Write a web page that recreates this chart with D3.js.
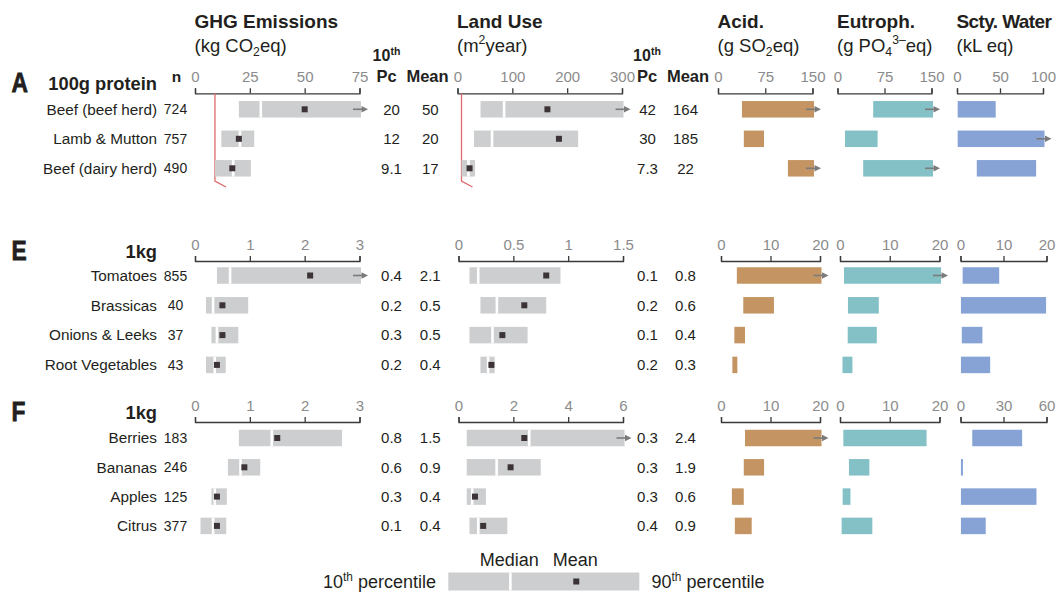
<!DOCTYPE html>
<html>
<head>
<meta charset="utf-8">
<script src="https://cdn.jsdelivr.net/npm/d3@7"></script>
<style>
  body { margin: 0; background: #fff; }
  svg { display: block; }
</style>
</head>
<body>
<svg id="chart" width="1059" height="592"></svg>
<script>
// ---------------- Data ----------------
// Section A: per 100 g protein
const productsA = ["Beef (beef herd)", "Lamb & Mutton", "Beef (dairy herd)"];
const countsA = [724, 757, 490];
const ghgP10A = [20, 12, 9.1];
const ghgMedianA = [30, 20.5, 17.4];
const ghgMeanA = [50, 20, 17];
const ghgP90A = [105, 27, 25.5];
const landP10A = [42, 30, 7.3];
const landMedianA = [85, 63, 20];
const landMeanA = [164, 185, 22];
const landP90A = [370, 220, 32];
const acidA = [[38, 200], [41, 73], [111, 170]];
const eutrophA = [[57, 190], [12, 64], [41, 175]];
const waterA = [[0.8, 45], [0.8, 108], [23, 92]];
const ghgTicksA = [0, 25, 50, 75];
const landTicksA = [0, 100, 200, 300];
const acidTicksA = [0, 75, 150];
const eutrophTicksA = [0, 75, 150];
const waterTicksA = [0, 50, 100];

// Section E: per 1 kg (vegetables)
const productsE = ["Tomatoes", "Brassicas", "Onions & Leeks", "Root Vegetables"];
const countsE = [855, 40, 37, 43];
const ghgP10E = [0.4, 0.2, 0.3, 0.2];
const ghgMedianE = [0.64, 0.33, 0.4, 0.36];
const ghgMeanE = [2.1, 0.5, 0.5, 0.4];
const ghgP90E = [3.4, 0.97, 0.79, 0.56];
const landP10E = [0.1, 0.2, 0.1, 0.2];
const landMedianE = [0.18, 0.35, 0.31, 0.27];
const landMeanE = [0.8, 0.6, 0.4, 0.3];
const landP90E = [0.93, 0.8, 0.63, 0.33];
const acidE = [[3.2, 24], [4.5, 10.7], [2.7, 4.85], [2.3, 3.3]];
const eutrophE = [[0.8, 23], [1.6, 7.8], [1.55, 7.4], [0.5, 2.5]];
const waterE = [[0.5, 9], [0.1, 19.9], [0.3, 5.1], [0.1, 6.9]];
const ghgTicksE = [0, 1, 2, 3];
const landTicksE = [0, 0.5, 1, 1.5];
const acidTicksE = [0, 10, 20];
const eutrophTicksE = [0, 10, 20];
const waterTicksE = [0, 10, 20];

// Section F: per 1 kg (fruit)
const productsF = ["Berries", "Bananas", "Apples", "Citrus"];
const countsF = [183, 246, 125, 377];
const ghgP10F = [0.8, 0.6, 0.3, 0.1];
const ghgMedianF = [1.4, 0.83, 0.36, 0.33];
const ghgMeanF = [1.5, 0.9, 0.4, 0.4];
const ghgP90F = [2.68, 1.19, 0.58, 0.57];
const landP10F = [0.3, 0.3, 0.3, 0.4];
const landMedianF = [2.58, 1.39, 0.5, 0.72];
const landMeanF = [2.4, 1.9, 0.6, 0.9];
const landP90F = [7.5, 3.0, 1.0, 1.78];
const acidF = [[4.85, 26], [4.6, 8.7], [2.2, 4.6], [2.8, 6.2]];
const eutrophF = [[0.67, 17.4], [1.8, 5.9], [0.53, 2.1], [0.33, 6.5]];
const waterF = [[8.2, 43], [0.3, 1.7], [0.3, 53], [0.3, 17.6]];
const ghgTicksF = [0, 1, 2, 3];
const landTicksF = [0, 2, 4, 6];
const acidTicksF = [0, 10, 20];
const eutrophTicksF = [0, 10, 20];
const waterTicksF = [0, 30, 60];

// Legend key: 10th percentile, median, mean, 90th percentile
const legendMarks = [0, 0.325, 0.67, 1];

// Column headings
const metricTitles = ["GHG Emissions", "Land Use", "Acid.", "Eutroph.", "Scty. Water"];
const metricUnits = [
  [{ t: "(kg CO" }, { t: "2", sub: true }, { t: "eq)" }],
  [{ t: "(m" }, { t: "2", sup: true }, { t: "year)" }],
  [{ t: "(g SO" }, { t: "2", sub: true }, { t: "eq)" }],
  [{ t: "(g PO" }, { t: "4", sub: true }, { t: "3–", sup: true }, { t: "eq)" }],
  [{ t: "(kL eq)" }]
];

// ---------------- Styling ----------------
const FONT = "'Liberation Sans', Arial, Helvetica, sans-serif";
const TEXT = "#231f20";
const AXIS = "#3a3a3a";
const TICK_TEXT = "#8b8b8b";
const RANGE_GREY = "#cdcecf";
const MEAN_MARK = "#3b3335";
const ARROW = "#7b7b7b";
const RED = "#e0686a";
const FILL = { acid: "#c49563", eutroph: "#84c1c7", water: "#87a3d6" };
const BAR_H = 16.5;
const ROW_FONT = 15.3;
const VALUE_FONT = 15;
const fmt = d3.format("~g");

// ---------------- Sections ----------------
function rows(products, p10, med, mean, p90) {
  return products.map((p, i) => ({ p10: p10[i], median: med[i], mean: mean[i], p90: p90[i] }));
}

const sections = [
  {
    letter: "A", basis: "100g protein", heads: true, marker: true,
    products: productsA, counts: countsA,
    ghg: rows(productsA, ghgP10A, ghgMedianA, ghgMeanA, ghgP90A),
    land: rows(productsA, landP10A, landMedianA, landMeanA, landP90A),
    acid: acidA, eutroph: eutrophA, water: waterA,
    ticks: { ghg: ghgTicksA, land: landTicksA, acid: acidTicksA, eutroph: eutrophTicksA, water: waterTicksA },
    axisY: 93.3, rowY0: 109.3, rowStep: 29.5,
    xr: { ghg: [195, 359.5], land: [457.5, 622], acid: [718, 812.5], eutroph: [837.5, 931.5], water: [957, 1043] }
  },
  {
    letter: "E", basis: "1kg", heads: false, marker: false,
    products: productsE, counts: countsE,
    ghg: rows(productsE, ghgP10E, ghgMedianE, ghgMeanE, ghgP90E),
    land: rows(productsE, landP10E, landMedianE, landMeanE, landP90E),
    acid: acidE, eutroph: eutrophE, water: waterE,
    ticks: { ghg: ghgTicksE, land: landTicksE, acid: acidTicksE, eutroph: eutrophTicksE, water: waterTicksE },
    axisY: 261, rowY0: 275.5, rowStep: 29.8,
    xr: { ghg: [195, 359.5], land: [458.5, 623], acid: [721, 820], eutroph: [840, 939.5], water: [960.5, 1046.5] }
  },
  {
    letter: "F", basis: "1kg", heads: false, marker: false,
    products: productsF, counts: countsF,
    ghg: rows(productsF, ghgP10F, ghgMedianF, ghgMeanF, ghgP90F),
    land: rows(productsF, landP10F, landMedianF, landMeanF, landP90F),
    acid: acidF, eutroph: eutrophF, water: waterF,
    ticks: { ghg: ghgTicksF, land: landTicksF, acid: acidTicksF, eutroph: eutrophTicksF, water: waterTicksF },
    axisY: 422, rowY0: 438, rowStep: 29.3,
    xr: { ghg: [195, 359.5], land: [458.5, 623], acid: [721, 820], eutroph: [840, 939.5], water: [960.5, 1046.5] }
  }
];

// x positions of the "10th Pc" and "Mean" value columns
const valueCols = {
  ghg: { pc: 391.5, mean: 430.3, pcHead: 386.5, meanHead: 427.5 },
  land: { pc: 647.5, mean: 685.5, pcHead: 647, meanHead: 688 }
};

const svg = d3.select("#chart").attr("font-family", FONT);

// text with sub/superscript parts
function richText(sel, parts, size) {
  let shift = 0;
  parts.forEach(p => {
    const target = p.sub ? size * 0.25 : p.sup ? -size * 0.4 : 0;
    sel.append("tspan")
      .attr("dy", target - shift)
      .attr("font-size", (p.sub || p.sup) ? size * 0.66 : size)
      .text(p.t);
    shift = target;
  });
}

function arrowAt(g, x, y) {
  g.append("line")
    .attr("x1", x - 6.5).attr("x2", x + 2.5)
    .attr("y1", y).attr("y2", y)
    .attr("stroke", ARROW).attr("stroke-width", 1.6);
  g.append("path")
    .attr("d", `M${x + 2},${y - 3.3} L${x + 8.5},${y} L${x + 2},${y + 3.3} Z`)
    .attr("fill", ARROW);
}

function drawAxis(g, scale, ticks, y) {
  const axis = d3.axisTop(scale)
    .tickValues(ticks)
    .tickSizeInner(5).tickSizeOuter(5)
    .tickPadding(6)
    .tickFormat(fmt);
  const a = g.append("g").attr("transform", `translate(0,${y})`).call(axis);
  a.attr("font-family", FONT).attr("font-size", 15);
  a.select(".domain").attr("stroke", AXIS).attr("stroke-width", 1.3);
  a.selectAll(".tick line").attr("stroke", AXIS).attr("stroke-width", 1.3);
  a.selectAll(".tick text").attr("fill", TICK_TEXT);
}

// Column headings
const headX = sections[0].xr;
metricTitles.forEach((title, i) => {
  const key = ["ghg", "land", "acid", "eutroph", "water"][i];
  svg.append("text")
    .attr("x", headX[key][0] - 0.5).attr("y", 27.5)
    .attr("font-weight", "bold").attr("font-size", 19)
    .attr("letter-spacing", key === "water" ? -0.6 : 0)
    .attr("fill", TEXT)
    .text(title);
  const u = svg.append("text")
    .attr("x", headX[key][0] - 0.5).attr("y", 51.5)
    .attr("font-size", 18.5).attr("fill", TEXT);
  richText(u, metricUnits[i], 18.5);
});

sections.forEach(sec => {
  const g = svg.append("g");
  const n = sec.products.length;
  const rowY = d3.range(n).map(i => sec.rowY0 + i * sec.rowStep);
  const sx = {};
  ["ghg", "land", "acid", "eutroph", "water"].forEach(k => {
    const t = sec.ticks[k];
    sx[k] = d3.scaleLinear().domain([t[0], t[t.length - 1]]).range(sec.xr[k]);
  });

  // section letter (condensed heavy) and basis
  g.append("text")
    .attr("transform", `translate(11.5,${sec.axisY - 1.5}) scale(0.8,1)`)
    .attr("font-weight", "bold").attr("font-size", 28.5)
    .attr("fill", TEXT).attr("stroke", TEXT).attr("stroke-width", 0.8)
    .text(sec.letter);
  g.append("text")
    .attr("x", 157).attr("y", sec.axisY - 3.5)
    .attr("text-anchor", "end").attr("font-weight", "bold").attr("font-size", 18.3)
    .attr("fill", TEXT).text(sec.basis);

  if (sec.heads) {
    g.append("text")
      .attr("x", 176.5).attr("y", sec.axisY - 11)
      .attr("text-anchor", "middle").attr("font-weight", "bold").attr("font-size", 15.5)
      .attr("fill", TEXT).text("n");
    ["ghg", "land"].forEach(k => {
      const c = valueCols[k];
      const t = g.append("text")
        .attr("x", c.pcHead).attr("y", sec.axisY - 32)
        .attr("text-anchor", "middle").attr("font-weight", "bold").attr("fill", TEXT);
      richText(t, [{ t: "10" }, { t: "th", sup: true }], 16);
      g.append("text")
        .attr("x", c.pcHead).attr("y", sec.axisY - 11.5)
        .attr("text-anchor", "middle").attr("font-weight", "bold").attr("font-size", 16.5)
        .attr("fill", TEXT).text("Pc");
      g.append("text")
        .attr("x", c.meanHead).attr("y", sec.axisY - 11.5)
        .attr("text-anchor", "middle").attr("font-weight", "bold").attr("font-size", 16.5)
        .attr("fill", TEXT).text("Mean");
    });
  }

  // axes
  ["ghg", "land", "acid", "eutroph", "water"].forEach(k => drawAxis(g, sx[k], sec.ticks[k], sec.axisY));

  // product labels and sample sizes
  g.selectAll("text.product").data(sec.products).join("text")
    .attr("class", "product")
    .attr("x", 157).attr("y", (d, i) => rowY[i] + 5.3)
    .attr("text-anchor", "end").attr("font-size", ROW_FONT).attr("fill", TEXT)
    .text(d => d);
  g.selectAll("text.count").data(sec.counts).join("text")
    .attr("class", "count")
    .attr("x", 175.5).attr("y", (d, i) => rowY[i] + 5)
    .attr("text-anchor", "middle").attr("font-size", 14).attr("fill", TEXT)
    .text(d => d);

  // lowest 10th percentile marker line
  if (sec.marker) {
    ["ghg", "land"].forEach(k => {
      const x = sx[k](d3.min(sec[k], d => d.p10));
      const yEnd = rowY[n - 1] + 12.7;
      g.append("path")
        .attr("d", `M${x},${sec.axisY} V${yEnd} L${x + 11},${yEnd + 6}`)
        .attr("fill", "none").attr("stroke", RED).attr("stroke-width", 1.3);
    });
  }

  // percentile range bars (GHG, land use)
  ["ghg", "land"].forEach(k => {
    const s = sx[k];
    const dMax = s.domain()[1];
    const endX = d => d.p90 > dMax ? s(dMax) + 1.5 : s(d.p90);
    const data = sec[k].map((d, i) => Object.assign({ y: rowY[i] }, d));
    const bg = g.append("g");
    bg.selectAll("rect.range").data(data).join("rect")
      .attr("class", "range")
      .attr("x", d => s(d.p10)).attr("width", d => endX(d) - s(d.p10))
      .attr("y", d => d.y - BAR_H / 2).attr("height", BAR_H)
      .attr("fill", RANGE_GREY);
    bg.selectAll("rect.median").data(data).join("rect")
      .attr("class", "median")
      .attr("x", d => s(d.median) - 1.3).attr("width", 2.6)
      .attr("y", d => d.y - BAR_H / 2).attr("height", BAR_H)
      .attr("fill", "#fff");
    bg.selectAll("rect.mean").data(data).join("rect")
      .attr("class", "mean")
      .attr("x", d => s(d.mean) - 3).attr("width", 6)
      .attr("y", d => d.y - 3).attr("height", 6)
      .attr("fill", MEAN_MARK);
    data.filter(d => d.p90 > dMax).forEach(d => arrowAt(bg, s(dMax), d.y));

    const c = valueCols[k];
    bg.selectAll("text.pc").data(data).join("text")
      .attr("class", "pc")
      .attr("x", c.pc).attr("y", d => d.y + 5.3)
      .attr("text-anchor", "middle").attr("font-size", VALUE_FONT).attr("fill", TEXT)
      .text(d => fmt(d.p10));
    bg.selectAll("text.mv").data(data).join("text")
      .attr("class", "mv")
      .attr("x", c.mean).attr("y", d => d.y + 5.3)
      .attr("text-anchor", "middle").attr("font-size", VALUE_FONT).attr("fill", TEXT)
      .text(d => fmt(d.mean));
  });

  // range bars (acidification, eutrophication, scarcity-weighted water)
  ["acid", "eutroph", "water"].forEach(k => {
    const s = sx[k];
    const dMax = s.domain()[1];
    const data = sec[k].map((r, i) => ({ lo: r[0], hi: r[1], y: rowY[i] }));
    const endX = d => d.hi > dMax ? s(dMax) + 1.5 : s(d.hi);
    const bg = g.append("g");
    bg.selectAll("rect").data(data).join("rect")
      .attr("x", d => s(d.lo)).attr("width", d => endX(d) - s(d.lo))
      .attr("y", d => d.y - BAR_H / 2).attr("height", BAR_H)
      .attr("fill", FILL[k]);
    data.filter(d => d.hi > dMax).forEach(d => arrowAt(bg, s(dMax), d.y));
  });
});

// ---------------- Legend ----------------
const lg = svg.append("g");
const lx = d3.scaleLinear().domain([0, 1]).range([448.3, 639.3]);
const lyc = 581.5;
lg.append("rect")
  .attr("x", lx(legendMarks[0])).attr("width", lx(legendMarks[3]) - lx(legendMarks[0]))
  .attr("y", lyc - 9).attr("height", 18).attr("fill", RANGE_GREY);
lg.append("rect")
  .attr("x", lx(legendMarks[1]) - 1.3).attr("width", 2.6)
  .attr("y", lyc - 9).attr("height", 18).attr("fill", "#fff");
lg.append("rect")
  .attr("x", lx(legendMarks[2]) - 3).attr("width", 6)
  .attr("y", lyc - 3).attr("height", 6).attr("fill", MEAN_MARK);
const l10 = lg.append("text").attr("x", 436).attr("y", lyc + 6.5)
  .attr("text-anchor", "end").attr("fill", TEXT);
richText(l10, [{ t: "10" }, { t: "th", sup: true }, { t: " percentile" }], 18);
const l90 = lg.append("text").attr("x", 651.5).attr("y", lyc + 6.5)
  .attr("fill", TEXT);
richText(l90, [{ t: "90" }, { t: "th", sup: true }, { t: " percentile" }], 18);
lg.append("text").attr("x", lx(legendMarks[1]) - 1).attr("y", 566)
  .attr("text-anchor", "middle").attr("font-size", 18).attr("fill", TEXT).text("Median");
lg.append("text").attr("x", lx(legendMarks[2]) - 1).attr("y", 566)
  .attr("text-anchor", "middle").attr("font-size", 18).attr("fill", TEXT).text("Mean");
</script>
</body>
</html>
